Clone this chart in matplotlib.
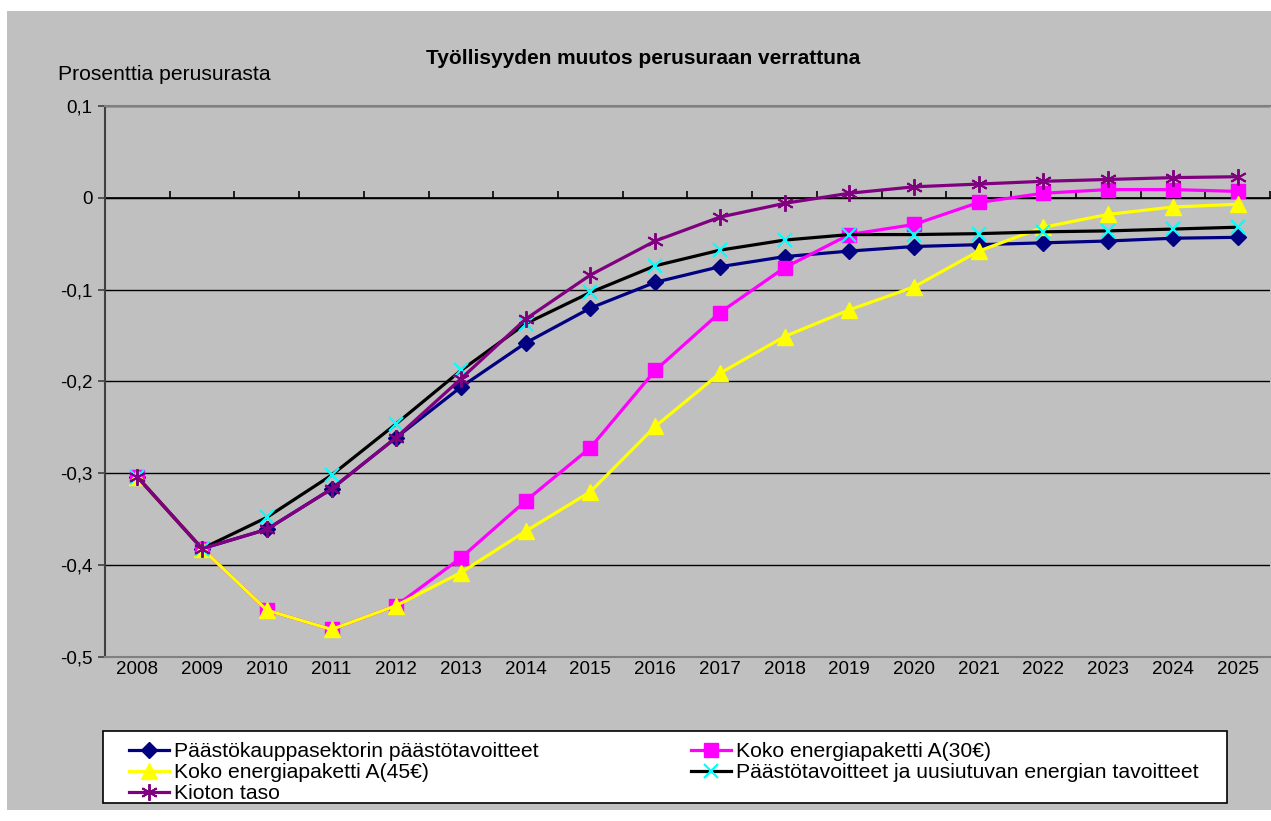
import numpy as np
import matplotlib
matplotlib.use("Agg")
import matplotlib.pyplot as plt
from matplotlib.patches import Rectangle
from matplotlib.ticker import FuncFormatter

plt.rcParams["font.family"] = ["Liberation Sans", "DejaVu Sans"]

# data
years = [str(y) for y in range(2008, 2026)]

paastokauppa = [-0.304, -0.382, -0.361, -0.317, -0.261, -0.206, -0.158, -0.120, -0.092,
                -0.075, -0.064, -0.058, -0.053, -0.051, -0.049, -0.047, -0.044, -0.043]
koko_30 = [-0.304, -0.382, -0.449, -0.470, -0.444, -0.392, -0.330, -0.272, -0.188,
           -0.125, -0.076, -0.040, -0.029, -0.005, 0.005, 0.009, 0.009, 0.007]
koko_45 = [-0.304, -0.382, -0.449, -0.470, -0.444, -0.408, -0.363, -0.320, -0.249,
           -0.191, -0.151, -0.122, -0.097, -0.058, -0.032, -0.018, -0.010, -0.007]
tavoitteet = [-0.304, -0.382, -0.348, -0.302, -0.246, -0.188, -0.137, -0.103, -0.074,
              -0.057, -0.046, -0.040, -0.040, -0.039, -0.037, -0.036, -0.034, -0.032]
kioto = [-0.304, -0.382, -0.361, -0.317, -0.261, -0.197, -0.132, -0.084, -0.047,
         -0.021, -0.006, 0.005, 0.012, 0.015, 0.018, 0.020, 0.022, 0.023]

labels = [
    "Päästökauppasektorin päästötavoitteet",
    "Koko energiapaketti A(30€)",
    "Koko energiapaketti A(45€)",
    "Päästötavoitteet ja uusiutuvan energian tavoitteet",
    "Kioton taso",
]

GRAY = "#c0c0c0"
W, H = 1271, 821

fig = plt.figure(figsize=(12.71, 8.21), dpi=100)
fig.patch.set_facecolor("white")
# gray chart area with thin white margin
fig.patches.append(Rectangle((7 / W, 11 / H), 1 - 7 / W, 1 - 22 / H,
                             transform=fig.transFigure, facecolor=GRAY,
                             edgecolor="none", zorder=-10))
# legend box
fig.patches.append(Rectangle((103 / W, 1 - 803 / H), 1124 / W, 72 / H,
                             transform=fig.transFigure, facecolor="white",
                             edgecolor="black", lw=1.2, zorder=-5))

ax = fig.add_axes([105 / W, 164 / H, 1165 / W, 551 / H])
ax.set_facecolor(GRAY)

x = np.arange(len(years))

l1, = ax.plot(x, paastokauppa, color="#000080", lw=2.3, marker="D", ms=8,
              mfc="#000080", mec="#000080", zorder=3)
l2, = ax.plot(x, koko_30, color="#ff00ff", lw=2.3, marker="s", ms=10,
              mfc="#ff00ff", mec="#ff00ff", zorder=3)
l3, = ax.plot(x, koko_45, color="#ffff00", lw=2.3, marker="^", ms=11,
              mfc="#ffff00", mec="#ffff00", zorder=3)
l4, = ax.plot(x, tavoitteet, color="black", lw=2.3, marker="x", ms=10,
              mec="#00ffff", mew=1.6, zorder=3)
l5, = ax.plot(x, kioto, color="#800080", lw=2.3, marker=(6, 2, 0), ms=12,
              mec="#800080", mew=1.4, zorder=3)

ax.set_xlim(-0.5, len(years) - 0.5)
ax.set_ylim(-0.5, 0.1)
ax.set_yticks(np.arange(-0.5, 0.11, 0.1))
ax.yaxis.set_major_formatter(FuncFormatter(
    lambda v, p: "0" if abs(v) < 1e-9 else f"{v:.1f}".replace(".", ",")))
ax.set_xticks(x)
ax.set_xticklabels(years)
ax.tick_params(axis="x", length=0, pad=3, labelsize=13.5)
ax.tick_params(axis="y", length=5, width=1.2, color="#404040", pad=4, labelsize=13.5)

ax.grid(axis="y", color="black", lw=1)
ax.set_axisbelow(True)
for side in ["top", "bottom"]:
    ax.spines[side].set_color("#808080")
    ax.spines[side].set_linewidth(1.5)
ax.spines["right"].set_visible(False)
ax.spines["left"].set_color("#404040")
ax.spines["left"].set_linewidth(1.5)

# category axis crosses at zero, ticks between categories
ax.axhline(0, color="black", lw=1.2, zorder=2)
sec = ax.secondary_xaxis(5 / 6)
sec.set_xticks(np.arange(-0.5, len(years), 1.0))
sec.set_xticklabels([])
sec.tick_params(length=5, width=1.2, color="black", direction="out")
sec.spines["bottom"].set_visible(False)

fig.text(643 / W, 1 - 58 / H, "Työllisyyden muutos perusuraan verrattuna",
         ha="center", va="center", fontsize=15, fontweight="bold")
fig.text(58 / W, 1 - 74 / H, "Prosenttia perusurasta",
         ha="left", va="center", fontsize=15.2)

leg = fig.legend([l1, l3, l5, l2, l4], [labels[0], labels[2], labels[4], labels[1], labels[3]],
                 loc="upper left", ncol=2, bbox_to_anchor=(129 / W, 1 - 742 / H),
                 fontsize=15.2, frameon=False, handlelength=1.9, columnspacing=7.2,
                 handletextpad=0.25, labelspacing=0.1, borderaxespad=0, borderpad=0)

fig.savefig("out.png", dpi=100, facecolor=fig.get_facecolor())
